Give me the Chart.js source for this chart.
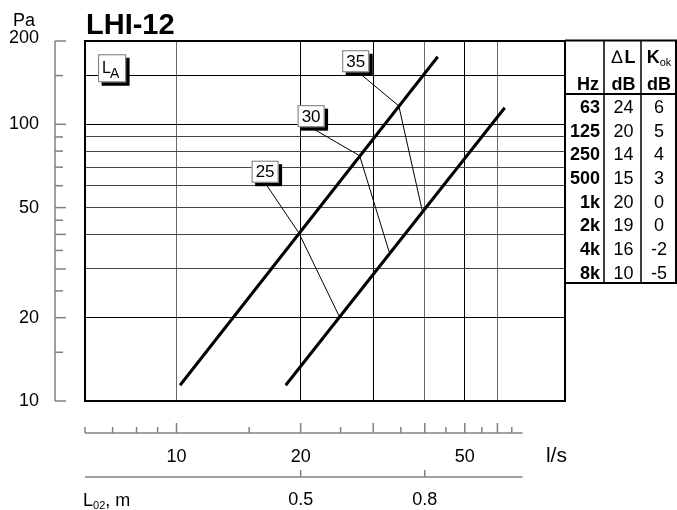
<!DOCTYPE html>
<html><head><meta charset="utf-8">
<script src="https://cdn.jsdelivr.net/npm/chart.js@4/dist/chart.umd.min.js"></script>
<style>html,body{margin:0;padding:0;background:#fff;}</style>
</head><body>
<canvas id="c" width="677" height="510"></canvas>
<script>
// ---- data ----
const flowGrid = [10, 20, 30, 40, 50, 60];
const paGrid = [20, 30, 40, 50, 60, 70, 80, 90, 100, 150];
const line1Flow = [10.2, 43.0];
const line1Pa = [11.4, 175.5];
const line2Flow = [18.4, 62.5];
const line2Pa = [11.4, 114.8];
const curveLabels = ['25', '30', '35'];
const labelFlow = [16.4, 21.2, 27.2];
const labelPa = [67.4, 107, 169];
const leader25Flow = [16.6, 19.8, 24.9];
const leader25Pa = [59.8, 40.5, 20.0];
const leader30Flow = [21.7, 27.8, 32.8];
const leader30Pa = [95.4, 77, 34.5];
const leader35Flow = [28.1, 34.6, 39.4];
const leader35Pa = [150.8, 116.5, 49];
const laFlow = 6.98, laPa = 159.4;
const paAxisTicks = [10, 15, 20, 25, 30, 35, 40, 45, 50, 60, 70, 80, 90, 100, 150, 200];
const paAxisMajor = [10, 20, 30, 40, 50, 100, 200];
const paAxisLabels = [10, 20, 50, 100, 200];
const flowAxisTicks = [6, 7, 8, 9, 10, 15, 20, 25, 30, 35, 40, 45, 50, 55, 60, 65];
const flowAxisMajor = [10, 20, 30, 40, 50, 60];
const flowAxisLabels = [10, 20, 50];
const flowAxisEnd = 69;
const l02Labels = ['0.5', '0.8'];
const l02Flow = [20, 40];
const hz = ['63', '125', '250', '500', '1k', '2k', '4k', '8k'];
const deltaL = [24, 20, 14, 15, 20, 19, 16, 10];
const kok = [6, 5, 4, 3, 0, 0, -2, -5];
const title = 'LHI-12';

function pts(xs, ys) { return xs.map((x, i) => ({x: x, y: ys[i]})); }
const FONT = '"Liberation Sans", Arial, sans-serif';
const FS = 18;
const strongX = [20, 30, 50];
const strongY = [20, 100, 150];

const deco = {
  id: 'deco',
  afterDatasetsDraw(chart) {
    const c = chart.ctx, a = chart.chartArea;
    const xs = chart.scales.x, ys = chart.scales.y;
    c.save();
    // frame
    c.strokeStyle = '#000'; c.lineWidth = 2;
    c.strokeRect(a.left, a.top, a.right - a.left, a.bottom - a.top);

    // label boxes
    function box(cx, cy, w, h) {
      c.fillStyle = '#000';
      c.fillRect(cx - w / 2 + 3.5, cy - h / 2 + 3.5, w, h);
      c.fillStyle = '#fff';
      c.fillRect(cx - w / 2, cy - h / 2, w, h);
      c.strokeStyle = '#777'; c.lineWidth = 1;
      c.strokeRect(cx - w / 2 + 0.5, cy - h / 2 + 0.5, w - 1, h - 1);
    }
    curveLabels.forEach((t, i) => {
      const cx = xs.getPixelForValue(labelFlow[i]), cy = ys.getPixelForValue(labelPa[i]);
      box(cx, cy, 27, 22);
      c.fillStyle = '#000'; c.font = '17px ' + FONT;
      c.textAlign = 'center'; c.textBaseline = 'middle';
      c.fillText(t, cx, cy + 1);
    });
    {
      const cx = xs.getPixelForValue(laFlow), cy = ys.getPixelForValue(laPa);
      box(cx, cy, 28, 28);
      c.fillStyle = '#000'; c.textAlign = 'left'; c.textBaseline = 'alphabetic';
      c.font = '16px ' + FONT; c.fillText('L', cx - 10, cy + 5);
      c.font = '14px ' + FONT; c.fillText('A', cx - 2, cy + 10);
    }
    c.restore();
  },
  afterDraw(chart) {
    const c = chart.ctx, a = chart.chartArea;
    const xs = chart.scales.x, ys = chart.scales.y;
    c.save();
    c.fillStyle = '#000';
    // title
    c.font = 'bold 29px ' + FONT; c.textAlign = 'left'; c.textBaseline = 'alphabetic';
    c.fillText(title, a.left + 1, 34);
    c.font = FS + 'px ' + FONT; c.textAlign = 'center';
    c.fillText('Pa', 24, 26);

    // left Pa axis
    const ax = a.left - 30;
    c.strokeStyle = '#808080'; c.lineWidth = 1.5;
    c.beginPath(); c.moveTo(ax, ys.getPixelForValue(200)); c.lineTo(ax, ys.getPixelForValue(10)); c.stroke();
    paAxisTicks.forEach(v => {
      const y = ys.getPixelForValue(v);
      const len = paAxisMajor.includes(v) ? 11 : 8;
      c.beginPath(); c.moveTo(ax, y); c.lineTo(ax + len, y); c.stroke();
    });
    c.font = FS + 'px ' + FONT; c.textAlign = 'right'; c.textBaseline = 'middle';
    paAxisLabels.forEach(v => {
      let y = ys.getPixelForValue(v);
      if (v === 200) y -= 3;
      c.fillText(String(v), ax - 16, y);
    });

    // bottom flow axis
    const by = a.bottom + 32;
    c.beginPath(); c.moveTo(xs.getPixelForValue(6), by); c.lineTo(xs.getPixelForValue(flowAxisEnd), by); c.stroke();
    flowAxisTicks.forEach(v => {
      const x = xs.getPixelForValue(v);
      const len = flowAxisMajor.includes(v) ? 10 : 6;
      c.beginPath(); c.moveTo(x, by); c.lineTo(x, by - len); c.stroke();
    });
    c.textAlign = 'center'; c.textBaseline = 'middle'; c.font = FS + 'px ' + FONT;
    flowAxisLabels.forEach(v => c.fillText(String(v), xs.getPixelForValue(v), by + 24));
    c.font = '21px ' + FONT;
    c.fillText('l/s', xs.getPixelForValue(flowAxisEnd) + 34, by + 23);

    // L02 axis
    const ly = a.bottom + 76;
    c.beginPath(); c.moveTo(xs.getPixelForValue(6), ly); c.lineTo(xs.getPixelForValue(flowAxisEnd), ly); c.stroke();
    c.font = FS + 'px ' + FONT;
    l02Flow.forEach((f, i) => {
      const x = xs.getPixelForValue(f);
      c.beginPath(); c.moveTo(x, ly); c.lineTo(x, ly - 7); c.stroke();
      c.fillText(l02Labels[i], x, ly + 23);
    });
    c.textAlign = 'left'; c.textBaseline = 'alphabetic';
    let lx = a.left - 2;
    c.font = FS + 'px ' + FONT; c.fillText('L', lx, ly + 29);
    lx += c.measureText('L').width;
    c.font = '11px ' + FONT; c.fillText('02', lx, ly + 32);
    lx += c.measureText('02').width;
    c.font = FS + 'px ' + FONT; c.fillText(', m', lx, ly + 29);

    // table
    const tl = a.right, tt = a.top - 0.5, tr = chart.width - 1, tb = a.top + 242;
    const c1 = tl + 39, c2 = tl + 76, hy = a.top + 53;
    c.strokeStyle = '#000'; c.lineWidth = 2;
    c.beginPath();
    c.moveTo(tl, tt); c.lineTo(tr, tt); c.lineTo(tr, tb); c.lineTo(tl, tb); c.lineTo(tl, tt);
    c.moveTo(tl, hy); c.lineTo(tr, hy);
    c.stroke();
    c.lineWidth = 1.5;
    c.beginPath(); c.moveTo(c1, tt); c.lineTo(c1, tb); c.moveTo(c2, tt); c.lineTo(c2, tb); c.stroke();
    const m1 = (c1 + c2) / 2 + 1, m2 = (c2 + tr) / 2 + 0.5;
    c.fillStyle = '#000'; c.textBaseline = 'middle';
    // header
    c.textAlign = 'left';
    c.font = FS + 'px ' + FONT;
    const dW = c.measureText('\u2206').width;
    c.font = 'bold ' + FS + 'px ' + FONT;
    const lW = c.measureText('L').width;
    let hx = m1 - (dW + 2 + lW) / 2;
    c.font = FS + 'px ' + FONT; c.fillText('\u2206', hx, tt + 18);
    c.font = 'bold ' + FS + 'px ' + FONT; c.fillText('L', hx + dW + 2, tt + 18);
    const kW = c.measureText('K').width;
    c.font = '11px ' + FONT;
    const oW = c.measureText('ok').width;
    let kx = m2 - (kW + oW) / 2;
    c.font = 'bold ' + FS + 'px ' + FONT; c.fillText('K', kx, tt + 18);
    c.font = '11px ' + FONT; c.fillText('ok', kx + kW, tt + 22);
    c.font = 'bold ' + FS + 'px ' + FONT;
    c.textAlign = 'right'; c.fillText('Hz', c1 - 5, tt + 45);
    c.textAlign = 'center'; c.fillText('dB', m1, tt + 45); c.fillText('dB', m2, tt + 45);
    // rows
    hz.forEach((h, i) => {
      const y = a.top + 67 + i * 23.7;
      c.font = 'bold ' + FS + 'px ' + FONT; c.textAlign = 'right'; c.fillText(h, c1 - 4, y);
      c.font = FS + 'px ' + FONT; c.textAlign = 'center';
      c.fillText(String(deltaL[i]), m1, y);
      c.fillText(String(kok[i]), m2, y);
    });
    c.restore();
  }
};

const thick = {borderColor: '#000', borderWidth: 3, pointRadius: 0, fill: false, tension: 0};
const thin = {borderColor: '#000', borderWidth: 1, pointRadius: 0, fill: false, tension: 0};

new Chart(document.getElementById('c'), {
  type: 'line',
  data: {
    datasets: [
      Object.assign({data: pts(leader25Flow, leader25Pa)}, thin),
      Object.assign({data: pts(leader30Flow, leader30Pa)}, thin),
      Object.assign({data: pts(leader35Flow, leader35Pa)}, thin),
      Object.assign({data: pts(line1Flow, line1Pa)}, thick),
      Object.assign({data: pts(line2Flow, line2Pa)}, thick)
    ]
  },
  options: {
    responsive: false, animation: false, devicePixelRatio: 1,
    layout: {padding: {left: 85, right: 112, top: 41, bottom: 109}},
    plugins: {legend: {display: false}, tooltip: {enabled: false}},
    scales: {
      x: {
        type: 'logarithmic', min: 6, max: 87.5,
        ticks: {display: false},
        border: {display: false},
        grid: {drawTicks: false, lineWidth: 1,
          color: ctx => (ctx.tick && strongX.includes(ctx.tick.value)) ? '#000' : '#6a6a6a'},
        afterBuildTicks: s => { s.ticks = flowGrid.map(v => ({value: v})); },
        afterFit: s => { s.height = 0; }
      },
      y: {
        type: 'logarithmic', min: 10, max: 200,
        ticks: {display: false},
        border: {display: false},
        grid: {drawTicks: false, lineWidth: 1,
          color: ctx => (ctx.tick && strongY.includes(ctx.tick.value)) ? '#000' : '#444'},
        afterBuildTicks: s => { s.ticks = paGrid.map(v => ({value: v})); },
        afterFit: s => { s.width = 0; }
      }
    }
  },
  plugins: [deco]
});
</script>
</body></html>
